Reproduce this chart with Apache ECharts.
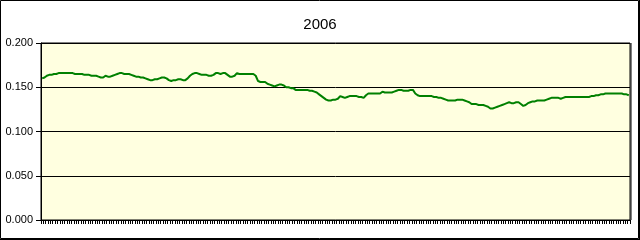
<!DOCTYPE html>
<html>
<head>
<meta charset="utf-8">
<script src="https://cdn.jsdelivr.net/npm/echarts@6/dist/echarts.min.js"></script>
<style>
html,body{margin:0;padding:0;background:#fff;}
#chart{width:640px;height:240px;}
</style>
</head>
<body>
<div id="chart"></div>
<script>
var titleText = "2006";
var yTicks = [0, 0.05, 0.10, 0.15, 0.20];
var values = [
0.160,0.161,0.163,0.164,0.164,0.165,0.165,0.166,0.166,0.166,
0.166,0.166,0.166,0.166,0.165,0.165,0.165,0.165,0.164,0.164,
0.164,0.163,0.163,0.163,0.162,0.161,0.161,0.163,0.162,0.162,
0.163,0.164,0.165,0.166,0.166,0.165,0.165,0.165,0.164,0.163,
0.162,0.162,0.161,0.161,0.160,0.159,0.158,0.158,0.159,0.159,
0.160,0.161,0.161,0.160,0.158,0.157,0.158,0.158,0.159,0.159,
0.158,0.158,0.160,0.163,0.165,0.166,0.166,0.165,0.164,0.164,
0.164,0.163,0.163,0.164,0.166,0.166,0.165,0.166,0.166,0.164,
0.162,0.162,0.163,0.166,0.165,0.165,0.165,0.165,0.165,0.165,
0.165,0.163,0.157,0.156,0.156,0.156,0.154,0.153,0.152,0.151,
0.152,0.153,0.153,0.152,0.150,0.150,0.149,0.149,0.147,0.147,
0.147,0.147,0.147,0.147,0.146,0.146,0.145,0.144,0.142,0.140,
0.138,0.136,0.135,0.135,0.136,0.136,0.137,0.140,0.139,0.138,
0.139,0.140,0.140,0.140,0.140,0.139,0.139,0.138,0.141,0.143,
0.143,0.143,0.143,0.143,0.143,0.145,0.144,0.144,0.144,0.144,
0.145,0.146,0.147,0.147,0.146,0.146,0.146,0.147,0.147,0.143,
0.141,0.140,0.140,0.140,0.140,0.140,0.140,0.139,0.139,0.138,
0.138,0.137,0.136,0.135,0.135,0.135,0.135,0.136,0.136,0.136,
0.135,0.134,0.133,0.131,0.131,0.131,0.130,0.130,0.130,0.129,
0.128,0.126,0.126,0.127,0.128,0.129,0.130,0.131,0.132,0.133,
0.132,0.132,0.133,0.133,0.131,0.129,0.130,0.132,0.133,0.134,
0.134,0.135,0.135,0.135,0.135,0.136,0.137,0.138,0.138,0.138,
0.138,0.137,0.138,0.139,0.139,0.139,0.139,0.139,0.139,0.139,
0.139,0.139,0.139,0.139,0.140,0.140,0.141,0.141,0.142,0.142,
0.143,0.143,0.143,0.143,0.143,0.143,0.143,0.143,0.142,0.142,
0.141
];
var categories = values.map(function (v, i) { return "Day " + (i + 1); });

var chart = echarts.init(document.getElementById('chart'), null, {renderer: 'canvas'});
chart.setOption({
  animation: false,
  backgroundColor: '#ffffff',
  title: {
    text: titleText,
    left: 'center',
    top: 12,
    textStyle: {fontFamily: 'Liberation Sans', fontSize: 15, fontWeight: 'normal', color: '#000'}
  },
  grid: {
    left: 41, right: 10, top: 43, bottom: 20,
    show: true,
    backgroundColor: '#FFFFE0',
    borderColor: '#000',
    borderWidth: 1
  },
  xAxis: {
    type: 'category',
    data: categories,
    boundaryGap: true,
    axisLine: {show: true, lineStyle: {color: '#000', width: 1}},
    axisTick: {show: true, interval: 0, length: 4, lineStyle: {color: '#000'}},
    axisLabel: {show: false},
    splitLine: {show: false}
  },
  yAxis: {
    type: 'value',
    min: yTicks[0],
    max: yTicks[yTicks.length - 1],
    interval: 0.05,
    axisLine: {show: true, lineStyle: {color: '#000', width: 1}},
    axisTick: {show: true, length: 5, lineStyle: {color: '#000'}},
    axisLabel: {
      margin: 8,
      fontFamily: 'Liberation Sans',
      fontSize: 11,
      color: '#000',
      formatter: function (v) { return v.toFixed(3); }
    },
    splitLine: {show: true, lineStyle: {color: '#000', width: 1}}
  },
  series: [{
    type: 'line',
    data: values,
    showSymbol: false,
    symbol: 'none',
    lineStyle: {color: '#008000', width: 2},
    itemStyle: {color: '#008000'}
  }],
  graphic: [
    {type: 'rect', shape: {x: 0.5, y: 0.5, width: 638, height: 238}, style: {fill: null, stroke: '#000', lineWidth: 1}, silent: true},
    {type: 'line', shape: {x1: 639.5, y1: 0, x2: 639.5, y2: 240}, style: {stroke: '#000', lineWidth: 1}, silent: true},
    {type: 'line', shape: {x1: 0, y1: 239.5, x2: 640, y2: 239.5}, style: {stroke: '#000', lineWidth: 1}, silent: true},
    {type: 'line', shape: {x1: 631, y1: 43, x2: 631, y2: 220}, style: {stroke: '#000', lineWidth: 1}, silent: true}
  ]
});
</script>
</body>
</html>
